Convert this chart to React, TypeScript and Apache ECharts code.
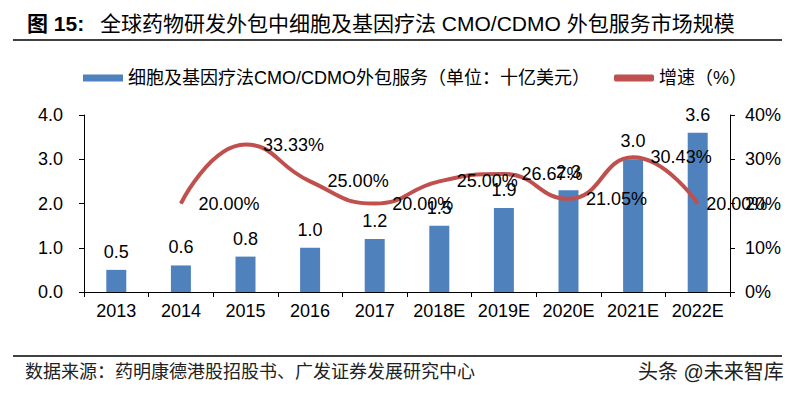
import React, { useEffect, useRef } from "react";
import * as echarts from "echarts";

const categories = ["2013", "2014", "2015", "2016", "2017", "2018E", "2019E", "2020E", "2021E", "2022E"];
const marketSize = [0.5, 0.6, 0.8, 1.0, 1.2, 1.5, 1.9, 2.3, 3.0, 3.6];
const growth = [null, 20.0, 33.33, 25.0, 20.0, 25.0, 26.67, 21.05, 30.43, 20.0];
const barName = "细胞及基因疗法CMO/CDMO外包服务（单位：十亿美元）";
const lineName = "增速（%）";
const titleLead = "图 15:";
const titleText = "全球药物研发外包中细胞及基因疗法 CMO/CDMO 外包服务市场规模";
const sourceText = "数据来源：药明康德港股招股书、广发证券发展研究中心";
const watermark = "头条 @未来智库";

const FONT = "'Liberation Sans', 'Noto Sans CJK SC', sans-serif";

export default function App() {
  const ref = useRef<HTMLDivElement>(null);
  useEffect(() => {
    if (!ref.current) return;
    const chart = echarts.init(ref.current, undefined, { renderer: "svg" });
    const lastIdx = growth.length - 1;
    chart.setOption({
      animation: false,
      backgroundColor: "#fff",
      textStyle: { fontFamily: FONT },
      legend: {
        left: 78,
        top: 64,
        itemWidth: 40,
        itemHeight: 7,
        itemGap: 24,
        textStyle: { fontSize: 18, color: "#000", fontFamily: FONT },
        data: [
          { name: barName, icon: "rect" },
          { name: lineName, icon: "roundRect", itemStyle: { color: "#C0504D" } },
        ],
      },
      grid: { left: 84, right: 63, top: 115, bottom: 104, containLabel: false },
      xAxis: {
        type: "category",
        data: categories,
        axisLine: { show: true, lineStyle: { color: "#000", width: 1 } },
        axisTick: { show: true, length: 5, interval: 0, lineStyle: { color: "#000" } },
        axisLabel: { fontSize: 18, color: "#000", margin: 10, interval: 0, fontFamily: FONT },
      },
      yAxis: [
        {
          type: "value",
          min: 0,
          max: 4,
          interval: 1,
          axisLine: { show: true, lineStyle: { color: "#000", width: 1 } },
          axisTick: { show: true, length: 5, lineStyle: { color: "#000" } },
          splitLine: { show: false },
          axisLabel: {
            fontSize: 18,
            color: "#000",
            margin: 21,
            fontFamily: FONT,
            formatter: (v: number) => v.toFixed(1),
          },
        },
        {
          type: "value",
          min: 0,
          max: 40,
          interval: 10,
          axisLine: { show: true, lineStyle: { color: "#000", width: 1 } },
          axisTick: { show: true, length: 5, lineStyle: { color: "#000" } },
          splitLine: { show: false },
          axisLabel: {
            fontSize: 18,
            color: "#000",
            margin: 15,
            fontFamily: FONT,
            formatter: "{value}%",
          },
        },
      ],
      series: [
        {
          name: barName,
          type: "bar",
          data: marketSize,
          barWidth: 20,
          itemStyle: { color: "#4F81BD" },
          label: {
            show: true,
            position: "top",
            distance: 9,
            fontSize: 18,
            color: "#000",
            fontFamily: FONT,
            formatter: (p: any) => Number(p.value).toFixed(1),
          },
          z: 2,
        },
        {
          name: lineName,
          type: "line",
          yAxisIndex: 1,
          smooth: 0.5,
          data: growth.map((v, i) =>
            i === lastIdx ? { value: v, label: { distance: 8 } } : v
          ),
          symbol: "circle",
          symbolSize: 1,
          itemStyle: { color: "#C0504D" },
          lineStyle: { color: "#C0504D", width: 4 },
          label: {
            show: true,
            position: "right",
            distance: 17,
            fontSize: 18,
            color: "#000",
            fontFamily: FONT,
            formatter: (p: any) => (p.value == null ? "" : Number(p.value).toFixed(2) + "%"),
          },
          z: 3,
        },
      ],
      graphic: [
        {
          type: "text",
          left: 27,
          top: 13,
          style: { text: titleLead, font: `bold 21px ${FONT}`, fill: "#000" },
        },
        {
          type: "text",
          left: 100,
          top: 13,
          style: { text: titleText, font: `21px ${FONT}`, fill: "#000" },
        },
        {
          type: "line",
          shape: { x1: 13, y1: 40, x2: 782, y2: 40 },
          style: { stroke: "#000", lineWidth: 1.5 },
        },
        {
          type: "line",
          shape: { x1: 13, y1: 356, x2: 782, y2: 356 },
          style: { stroke: "#000", lineWidth: 1.5 },
        },
        {
          type: "text",
          left: 25,
          top: 363,
          style: { text: sourceText, font: `18px ${FONT}`, fill: "#222" },
        },
        {
          type: "text",
          left: 638,
          top: 362,
          style: { text: watermark, font: `20px ${FONT}`, fill: "#222" },
        },
      ],
    });
    return () => chart.dispose();
  }, []);
  return (
    <div
      ref={ref}
      style={{ position: "fixed", left: 0, top: 0, width: 793, height: 396, background: "#fff" }}
    />
  );
}
